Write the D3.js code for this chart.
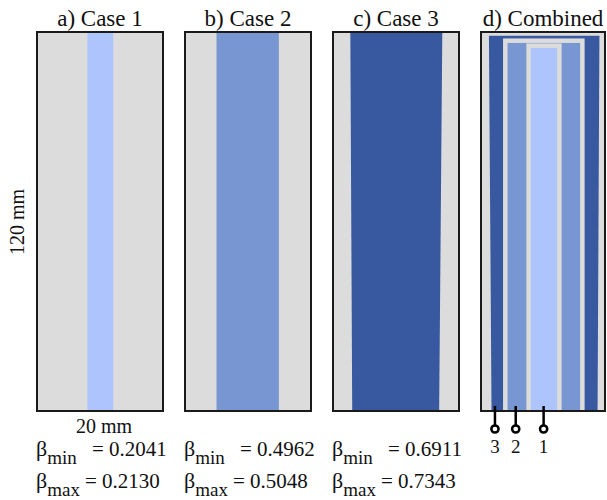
<!DOCTYPE html>
<html>
<head>
<meta charset="utf-8">
<script src="https://cdn.jsdelivr.net/npm/d3@7"></script>
<style>
  html, body { margin: 0; padding: 0; background: #fff; }
  svg { display: block; }
</style>
</head>
<body>
<div id="chart"></div>
<script>
// ---- data ----
const panelTitles = ["a) Case 1", "b) Case 2", "c) Case 3", "d) Combined"];
const betaMin = ["0.2041", "0.4962", "0.6911"];
const betaMax = ["0.2130", "0.5048", "0.7343"];
// strip outlines in mm: [top-left x, top-right x, bottom-right x, bottom-left x]
const stripCase1 = [8.0, 12.1, 12.1, 8.0];
const stripCase2 = [5.0, 14.9, 14.9, 5.0];
const stripCase3 = [2.75, 17.35, 16.85, 3.05];
// combined panel (mm): outer dark band, middle frame, inner strip
const combinedDark = [1.28, 19.1, 18.8, 1.7];
const combinedDarkTop = 1.17;
const combinedMid = [3.92, 16.35];
const combinedMidTop = 2.75;
const combinedLight = [7.68, 12.64];
const combinedLightTop = 4.34;
const pinX = [10.1, 5.6, 2.25];
const pinLabels = ["1", "2", "3"];
const plateWidth = 20;   // mm
const plateHeight = 120; // mm

// ---- style ----
const W = 607, H = 500;
const FONT = "'Liberation Serif', 'Times New Roman', Times, 'DejaVu Serif', serif";
const cLight = "#adc5fc", cMid = "#7896d2", cDark = "#3858a0", cGray = "#dcdcdc";
const plotTop = 32, plotBottom = 411, pw = 126, step = 148, left0 = 37;

const svg = d3.select("#chart").append("svg").attr("width", W).attr("height", H)
  .attr("font-family", FONT).style("font-family", FONT);
const y = d3.scaleLinear().domain([0, plateHeight]).range([plotTop, plotBottom]);

const strips = [stripCase1, stripCase2, stripCase3];
const colors = [cLight, cMid, cDark];

function addText(sel) {
  return sel.append("text").attr("font-family", FONT).style("font-family", FONT).attr("fill", "#111");
}

panelTitles.forEach((title, i) => {
  const left = left0 + i * step;
  const w = i === 3 ? 124 : pw;
  const x = d3.scaleLinear().domain([0, plateWidth]).range([left, left + w]);
  const g = svg.append("g");
  const clipId = "clip" + i;
  svg.append("clipPath").attr("id", clipId)
    .append("rect").attr("x", x(0)).attr("y", y(0))
    .attr("width", x(plateWidth) - x(0)).attr("height", y(plateHeight) - y(0));
  const body = g.append("g").attr("clip-path", `url(#${clipId})`);
  body.append("rect").attr("x", x(0)).attr("y", y(0))
    .attr("width", x(plateWidth) - x(0)).attr("height", y(plateHeight) - y(0))
    .attr("fill", cGray);

  const poly = (s, t0) => [[x(s[0]), y(t0)], [x(s[1]), y(t0)], [x(s[2]), y(plateHeight)], [x(s[3]), y(plateHeight)]]
    .map(p => p.join(",")).join(" ");

  if (i < 3) {
    body.append("polygon").attr("points", poly(strips[i], 0)).attr("fill", colors[i]);
  } else {
    body.append("polygon").attr("points", poly(combinedDark, combinedDarkTop)).attr("fill", cDark);
    body.append("rect").attr("x", x(combinedMid[0])).attr("y", y(combinedMidTop))
      .attr("width", x(combinedMid[1]) - x(combinedMid[0]))
      .attr("height", y(plateHeight + 10) - y(combinedMidTop))
      .attr("fill", cMid).attr("stroke", cGray).attr("stroke-width", 4.5);
    body.append("rect").attr("x", x(combinedLight[0])).attr("y", y(combinedLightTop))
      .attr("width", x(combinedLight[1]) - x(combinedLight[0]))
      .attr("height", y(plateHeight + 10) - y(combinedLightTop))
      .attr("fill", cLight).attr("stroke", cGray).attr("stroke-width", 4.5);
  }

  // frame
  g.append("rect").attr("x", x(0)).attr("y", y(0))
    .attr("width", x(plateWidth) - x(0)).attr("height", y(plateHeight) - y(0))
    .attr("fill", "none").attr("stroke", "#1a1a1a").attr("stroke-width", 2);

  // title
  addText(g).attr("x", (x(0) + x(plateWidth)) / 2).attr("y", 26)
    .attr("text-anchor", "middle").attr("font-size", 23).text(title);

  if (i < 3) {
    const rows = [["min", betaMin[i], 456, 55], ["max", betaMax[i], 488, 48]];
    rows.forEach(([sub, val, by, eqOff]) => {
      const t = addText(g).attr("x", left - 1).attr("y", by).attr("font-size", 22);
      t.append("tspan").text("β");
      t.append("tspan").attr("dy", 8).attr("font-size", 19).text(sub);
      addText(g).attr("x", left + eqOff).attr("y", by).attr("font-size", 21).text("= " + val);
    });
  } else {
    pinX.forEach((px, k) => {
      g.append("line").attr("x1", x(px)).attr("x2", x(px))
        .attr("y1", y(plateHeight) - 5).attr("y2", 425)
        .attr("stroke", "#000").attr("stroke-width", 2.5);
      g.append("circle").attr("cx", x(px)).attr("cy", 429).attr("r", 3.6)
        .attr("fill", "#fff").attr("stroke", "#000").attr("stroke-width", 2.5);
      addText(g).attr("x", x(px)).attr("y", 453).attr("text-anchor", "middle")
        .attr("font-size", 19).text(pinLabels[k]);
    });
  }
});

// dimension labels
addText(svg).attr("x", 104).attr("y", 433).attr("text-anchor", "middle")
  .attr("font-size", 20).text(plateWidth + " mm");
addText(svg).attr("transform", "translate(24,222) rotate(-90)")
  .attr("text-anchor", "middle").attr("font-size", 20).text(plateHeight + " mm");
</script>
</body>
</html>
